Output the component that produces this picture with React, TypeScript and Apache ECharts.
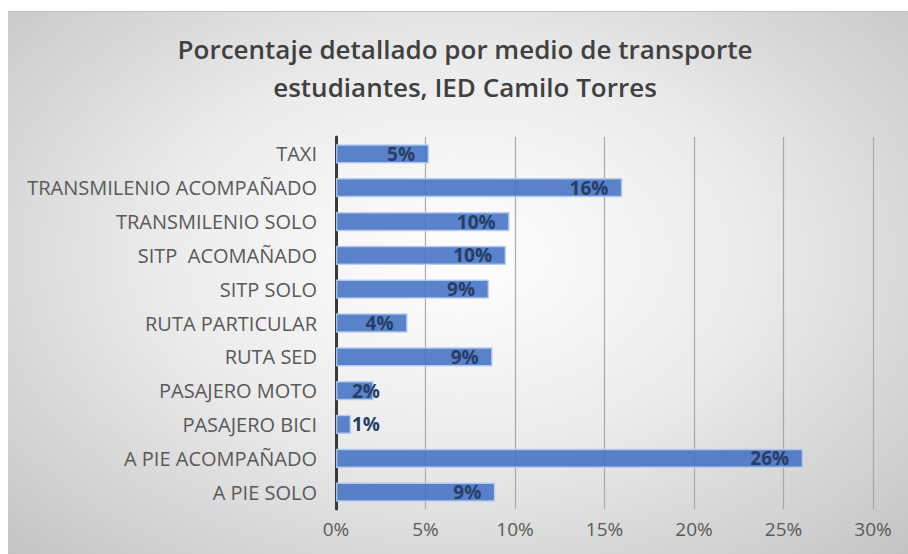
import React, { useEffect, useRef } from "react";
import * as echarts from "echarts";

const titleLines = ["Porcentaje detallado por medio de transporte", "estudiantes, IED Camilo Torres"];
const categories = [
  "TAXI",
  "TRANSMILENIO ACOMPAÑADO",
  "TRANSMILENIO SOLO",
  "SITP  ACOMAÑADO",
  "SITP SOLO",
  "RUTA PARTICULAR",
  "RUTA SED",
  "PASAJERO MOTO",
  "PASAJERO BICI",
  "A PIE ACOMPAÑADO",
  "A PIE SOLO",
];
const values = [5.2, 16.0, 9.7, 9.5, 8.55, 4.0, 8.75, 2.1, 0.84, 26.1, 8.9];
const xTicks = { min: 0, max: 30, interval: 5 };

export default function App() {
  const ref = useRef<HTMLDivElement>(null);
  useEffect(() => {
    if (!ref.current) return;
    const chart = echarts.init(ref.current, null, { renderer: "svg" });
    const font = "'Open Sans', 'Noto Sans', sans-serif";
    chart.setOption({
      animation: false,
      backgroundColor: "transparent",
      title: {
        text: titleLines.join("\n"),
        left: 460,
        top: 25,
        textAlign: "center",
        textStyle: {
          fontFamily: font,
          fontSize: 26,
          fontWeight: 600,
          color: "#404040",
          lineHeight: 38,
        },
      },
      grid: { left: 336, right: 35, top: 137, bottom: 45 },
      xAxis: {
        type: "value",
        min: xTicks.min,
        max: xTicks.max,
        interval: xTicks.interval,
        axisLine: { show: false },
        axisTick: { show: false },
        axisLabel: {
          formatter: "{value}%",
          fontFamily: font,
          fontSize: 19,
          color: "#595959",
          margin: 10,
        },
        splitLine: { lineStyle: { color: "#a8a8a8", width: 1.2 } },
      },
      yAxis: {
        type: "category",
        data: categories,
        inverse: true,
        axisLine: { show: true, lineStyle: { color: "#3a3a3a", width: 3 } },
        axisTick: { show: false },
        axisLabel: {
          fontFamily: font,
          fontSize: 20,
          color: "#595959",
          margin: 19,
        },
      },
      series: [
        {
          type: "bar",
          barCategoryGap: "43%",
          data: values.map((v) => {
            const small = v < 3;
            return {
              value: v,
              label: small
                ? { position: "insideLeft", distance: 16 }
                : { position: "insideRight", distance: 14 },
            };
          }),
          itemStyle: {
            color: "rgba(68,114,196,0.88)",
            borderColor: "rgba(180,205,240,0.9)",
            borderWidth: 1.5,
          },
          label: {
            show: true,
            formatter: (p: any) => Math.round(p.value) + "%",
            fontFamily: font,
            fontSize: 19,
            fontWeight: "bold",
            color: "#263d66",
          },
        },
      ],
    });
    return () => chart.dispose();
  }, []);

  return (
    <div style={{ position: "absolute", left: 0, top: 0, width: 908, height: 554, background: "#ffffff" }}>
      <div
        style={{
          position: "absolute",
          left: 8,
          top: 11,
          width: 900,
          height: 543,
          background: "radial-gradient(ellipse at 50% 45%, #ffffff 0%, #ececec 45%, #c4c4c4 100%)",
          borderTop: "1px solid #c4c4c4",
          boxSizing: "border-box",
        }}
      />
      <div ref={ref} style={{ position: "absolute", left: 0, top: 0, width: 908, height: 554 }} />
    </div>
  );
}
